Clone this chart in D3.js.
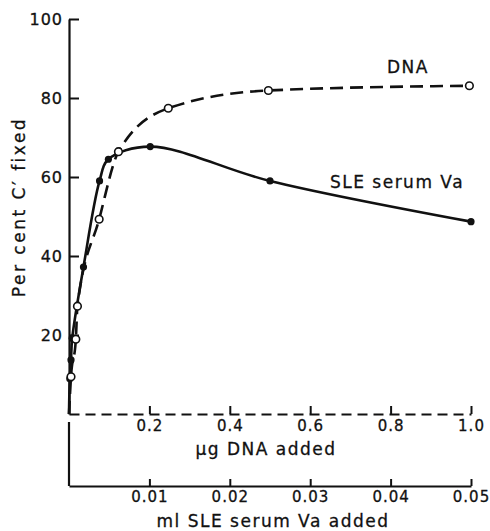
<!DOCTYPE html>
<html>
<head>
<meta charset="utf-8">
<script src="https://cdn.jsdelivr.net/npm/d3@7"></script>
<style>
  body { margin: 0; background: #fff; }
  svg { display: block; }
  text { font-family: "DejaVu Sans", sans-serif; fill: #111; stroke: #111; stroke-width: 0.3; }
</style>
</head>
<body>
<svg id="chart" width="490" height="531"></svg>
<script>
// values
// SLE serum Va: ml serum added vs per cent C' fixed (filled circles)
var serumMl  = [0.0001, 0.00025, 0.0004, 0.0018, 0.0038, 0.0049, 0.0101, 0.025, 0.05];
var serumPct = [8.9, 13.7, 19.2, 37.2, 59.0, 64.5, 67.7, 59.0, 48.7];

// DNA: micrograms DNA added vs per cent C' fixed (open circles)
var dnaUg  = [0.005, 0.017, 0.021, 0.075, 0.123, 0.247, 0.496, 0.996];
var dnaPct = [9.4, 18.9, 27.3, 49.3, 66.4, 77.4, 81.9, 83.1];

var yTicks   = [20, 40, 60, 80, 100];
var dnaTicks = [0.2, 0.4, 0.6, 0.8, 1.0];
var mlTicks  = [0.01, 0.02, 0.03, 0.04, 0.05];

var svg = d3.select("#chart");
var plotL = 69, plotR = 471, plotT = 19, plotB = 414, axis2Y = 486;

var x1 = d3.scaleLinear().domain([0, 1]).range([plotL, plotR]);
var x2 = d3.scaleLinear().domain([0, 0.05]).range([plotL, plotR]);
var y  = d3.scaleLinear().domain([0, 100]).range([plotB, plotT]);

function styleAxis(g, size) {
  g.selectAll("path.domain").attr("stroke", "#111").attr("stroke-width", 2.2);
  g.selectAll(".tick line").attr("stroke", "#111").attr("stroke-width", 2);
  g.selectAll(".tick text").attr("font-size", size).attr("fill", "#111")
    .attr("letter-spacing", 1);
}

// y axis, ticks point inward
var gy = svg.append("g").attr("transform", "translate(" + plotL + ",0)")
  .call(d3.axisLeft(y).tickValues(yTicks).tickSizeInner(-10).tickSizeOuter(0)
        .tickPadding(6).tickFormat(d3.format("d")));
styleAxis(gy, 16);
gy.selectAll(".tick text").attr("x", -6);

// dashed zero line with DNA scale
var gx1 = svg.append("g").attr("transform", "translate(0," + plotB + ")")
  .call(d3.axisBottom(x1).tickValues(dnaTicks).tickSizeInner(-8).tickSizeOuter(0)
        .tickPadding(6).tickFormat(d3.format(".1f")));
styleAxis(gx1, 15);
gx1.select("path.domain").attr("stroke-dasharray", "10,6").attr("stroke-width", 2);

// second scale: ml serum
var gx2 = svg.append("g").attr("transform", "translate(0," + axis2Y + ")")
  .call(d3.axisBottom(x2).tickValues(mlTicks).tickSizeInner(-7).tickSizeOuter(0)
        .tickPadding(5).tickFormat(d3.format(".2f")));
styleAxis(gx2, 15);

svg.append("line")
  .attr("x1", x2(0)).attr("x2", x2(0))
  .attr("y1", plotB + 8).attr("y2", axis2Y)
  .attr("stroke", "#111").attr("stroke-width", 2.2);

// curves start from the origin
var serumPts = [[0, 0]].concat(serumMl.map(function(d, i) { return [d, serumPct[i]]; }));
var dnaPts = [[0, 0]].concat(dnaUg.map(function(d, i) { return [d, dnaPct[i]]; }));

var serumLine = d3.line()
  .x(function(d) { return x2(d[0]); })
  .y(function(d) { return y(d[1]); })
  .curve(d3.curveCatmullRom.alpha(0.5));
var dnaLine = d3.line()
  .x(function(d) { return x1(d[0]); })
  .y(function(d) { return y(d[1]); })
  .curve(d3.curveMonotoneX);

svg.append("path").attr("d", dnaLine(dnaPts))
  .attr("fill", "none").attr("stroke", "#111").attr("stroke-width", 2.6)
  .attr("stroke-dasharray", "13,7");
svg.append("path").attr("d", serumLine(serumPts))
  .attr("fill", "none").attr("stroke", "#111").attr("stroke-width", 2.6);

svg.append("g").selectAll("circle").data(serumMl).enter().append("circle")
  .attr("cx", function(d) { return x2(d); })
  .attr("cy", function(d, i) { return y(serumPct[i]); })
  .attr("r", 3.6).attr("fill", "#111");

svg.append("g").selectAll("circle").data(dnaUg).enter().append("circle")
  .attr("cx", function(d) { return x1(d); })
  .attr("cy", function(d, i) { return y(dnaPct[i]); })
  .attr("r", 3.8).attr("fill", "#fff").attr("stroke", "#111").attr("stroke-width", 1.6);

// labels
svg.append("text").attr("x", 408).attr("y", 73).attr("text-anchor", "middle")
  .attr("font-size", 17).attr("letter-spacing", 1.5).text("DNA");
svg.append("text").attr("x", 397).attr("y", 188).attr("text-anchor", "middle")
  .attr("font-size", 17).attr("letter-spacing", 1.5).text("SLE serum Va");

svg.append("text").attr("x", 266).attr("y", 455).attr("text-anchor", "middle")
  .attr("font-size", 17).attr("letter-spacing", 1.5).text("\u03bcg DNA added");
svg.append("text").attr("x", 273).attr("y", 527).attr("text-anchor", "middle")
  .attr("font-size", 17).attr("letter-spacing", 1.5).text("ml SLE serum Va added");

svg.append("text")
  .attr("transform", "translate(25,207) rotate(-90)")
  .attr("text-anchor", "middle")
  .attr("font-size", 17).attr("letter-spacing", 2.5).text("Per cent C\u2032 fixed");
</script>
</body>
</html>
